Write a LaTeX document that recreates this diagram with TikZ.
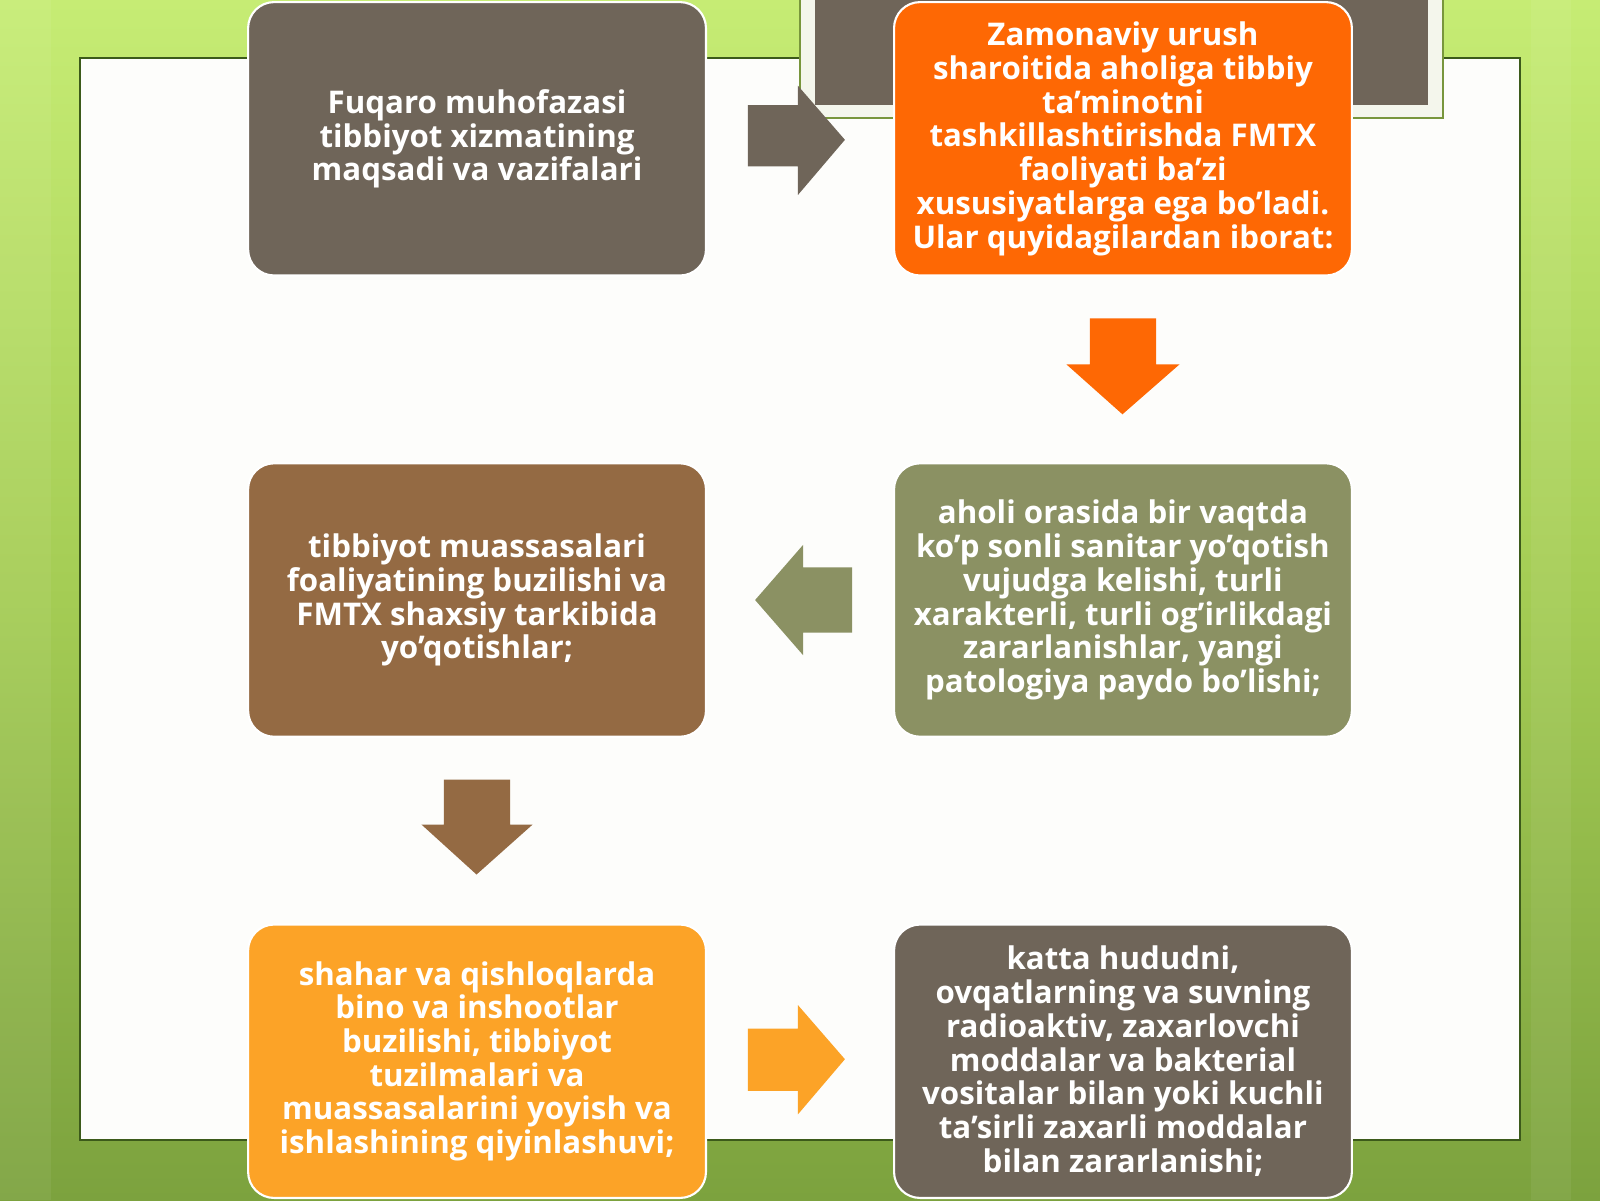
\documentclass[tikz,border=0pt]{standalone}
\usepackage{fontspec}
\setmainfont{Open Sans}
\definecolor{bgtop}{RGB}{198,236,116}
\definecolor{bgmid}{RGB}{164,204,84}
\definecolor{bgbot}{RGB}{124,162,62}
\definecolor{framegreen}{RGB}{60,90,26}
\definecolor{panelline}{RGB}{120,150,60}
\definecolor{panelfill}{RGB}{244,246,236}
\definecolor{framefill}{RGB}{253,253,251}
\definecolor{graybox}{RGB}{111,101,89}
\definecolor{orangebox}{RGB}{254,104,4}
\definecolor{olivebox}{RGB}{139,145,99}
\definecolor{brownbox}{RGB}{148,106,67}
\definecolor{yellowbox}{RGB}{252,163,39}
\begin{document}
\begin{tikzpicture}[x=0.0102041cm,y=-0.0102041cm,
  box/.style={rounded corners=0.26cm, minimum width=4.58cm, minimum height=2.735cm,
    text=white, align=center, font=\fontsize{8.9}{9.6}\selectfont\bfseries,
    draw=white, line width=0.6pt, inner sep=0pt}]
\useasboundingbox (0,0) rectangle (1568,1176);
% background
\shade[top color=bgtop, bottom color=bgbot, middle color=bgmid] (0,0) rectangle (1568,1176);
\fill[white, opacity=0.06] (0,0) rectangle (50,1176);
\fill[white, opacity=0.06] (1500,0) rectangle (1540,1176);
% white frame
\draw[framegreen, fill=framefill, line width=0.6pt] (78,57) rectangle (1490,1117);
% top decorative dark panel
\draw[panelline, fill=panelfill, line width=0.6pt] (784,-5) rectangle (1414,116);
\fill[graybox] (799,-5) rectangle (1399,103);
% boxes
\node[box, fill=graybox] (b1) at (467.5,136) {Fuqaro muhofazasi\\ tibbiyot xizmatining\\ maqsadi va vazifalari};
\node[box, fill=orangebox] (b2) at (1100.5,136) {Zamonaviy urush\\ sharoitida aholiga tibbiy\\ ta’minotni\\ tashkillashtirishda FMTX\\ faoliyati ba’zi\\ xususiyatlarga ega bo’ladi.\\ Ular quyidagilardan iborat:};
\node[box, fill=olivebox] (b3) at (1100.5,588) {aholi orasida bir vaqtda\\ ko’p sonli sanitar yo’qotish\\ vujudga kelishi, turli\\ xarakterli, turli og’irlikdagi\\ zararlanishlar, yangi\\ patologiya paydo bo’lishi;};
\node[box, fill=brownbox] (b4) at (467.5,588) {tibbiyot muassasalari\\ foaliyatining buzilishi va\\ FMTX shaxsiy tarkibida\\ yo’qotishlar;};
\node[box, fill=yellowbox] (b5) at (467.5,1040) {shahar va qishloqlarda\\ bino va inshootlar\\ buzilishi, tibbiyot\\ tuzilmalari va\\ muassasalarini yoyish va\\ ishlashining qiyinlashuvi;};
\node[box, fill=graybox] (b6) at (1100.5,1040) {katta hududni,\\ ovqatlarning va suvning\\ radioaktiv, zaxarlovchi\\ moddalar va bakterial\\ vositalar bilan yoki kuchli\\ ta’sirli zaxarli moddalar\\ bilan zararlanishi;};
% block arrows
\fill[graybox] (733,103) -- (782,103) -- (782,84) -- (828,137) -- (782,191) -- (782,163) -- (733,163) -- cycle;
\fill[orangebox] (1068,312) -- (1133,312) -- (1133,357) -- (1156,357) -- (1100,406) -- (1045,357) -- (1068,357) -- cycle;
\fill[olivebox] (835,556) -- (787,556) -- (787,534) -- (740,588) -- (787,642) -- (787,620) -- (835,620) -- cycle;
\fill[brownbox] (435,764) -- (500,764) -- (500,808) -- (522,808) -- (467,857) -- (413,808) -- (435,808) -- cycle;
\fill[yellowbox] (733,1008) -- (782,1008) -- (782,985) -- (828,1038) -- (782,1092) -- (782,1069) -- (733,1069) -- cycle;
\end{tikzpicture}
\end{document}
